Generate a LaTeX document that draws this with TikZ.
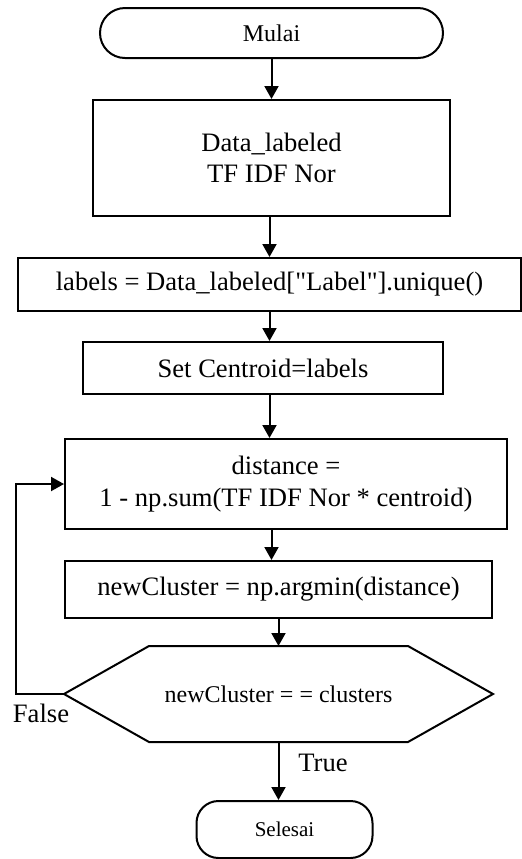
\documentclass[tikz,border=0pt]{standalone}
\usepackage{fontspec}
\setmainfont{Liberation Serif}
\usetikzlibrary{arrows.meta}

\begin{document}
\begin{tikzpicture}[font=\fontsize{13.3}{15.8}\selectfont,>={Triangle[length=6.5pt,width=7pt]},x=0.5pt,y=-0.5pt,line width=1pt]
    \tikzset{
        box/.style={
            draw,
            inner sep=0pt,
            align=center
        },
        term/.style={
            box,
            minimum height=25pt
        },
        link/.style={->}
    }
    \useasboundingbox (0,0) rectangle (522,859);

    \node[term,rounded corners=12.5pt,minimum width=171.5pt,font=\fontsize{12}{14}\selectfont] (start) at (271.5,33)
        {Mulai};
    \node[box,minimum width=178.5pt,minimum height=58pt] (data) at (271.5,158)
        {Data\_labeled\\TF IDF Nor};
    \node[box,minimum width=251.5pt,minimum height=26.5pt] (labels) at (269.5,284.5)
        {labels = Data\_labeled[\textquotedbl Label\textquotedbl].unique()};
    \node[box,minimum width=180pt,minimum height=26pt] (centroid) at (263,368)
        {Set Centroid=labels};
    \node[box,minimum width=221pt,minimum height=45pt] (dist) at (286,484)
        {distance =\\1 - np.sum(TF IDF Nor * centroid)};
    \node[box,minimum width=213.5pt,minimum height=28.5pt] (argmin) at (278.5,589.5)
        {newCluster = np.argmin(distance)};
    \node[inner sep=0pt,minimum width=213.5pt,minimum height=47pt,font=\fontsize{12}{14}\selectfont] (dec) at (278.5,694)
        {newCluster = = clusters};
    \draw (dec.west) -- ([xshift=42.5pt]dec.north west) -- ([xshift=-42.5pt]dec.north east)
        -- (dec.east) -- ([xshift=-42.5pt]dec.south east) -- ([xshift=42.5pt]dec.south west) -- cycle;
    \node[term,rounded corners=11pt,minimum width=88pt,minimum height=28.5pt,font=\fontsize{10.5}{12}\selectfont] (stop) at (284.5,829.5)
        {Selesai};

    \node (false) at (41,713) {False};
    \node (true) at (323,763) {True};

    \draw[link] (start.south) -- (data.north);
    \draw[link] (data.south -| labels.south) -- (labels.north);
    \draw[link] (labels.south) -- (labels.south |- centroid.north);
    \draw[link] (centroid.south -| labels.south) -- (labels.south |- dist.north);
    \draw[link] (dist.south -| start.south) -- (start.south |- argmin.north);
    \draw[link] (argmin.south) -- (dec.north);
    \draw[link] (dec.south) -- (dec.south |- stop.north);
    \draw[link] (dec.west) -- ++(-48,0) |- (dist.west);
\end{tikzpicture}
\end{document}
